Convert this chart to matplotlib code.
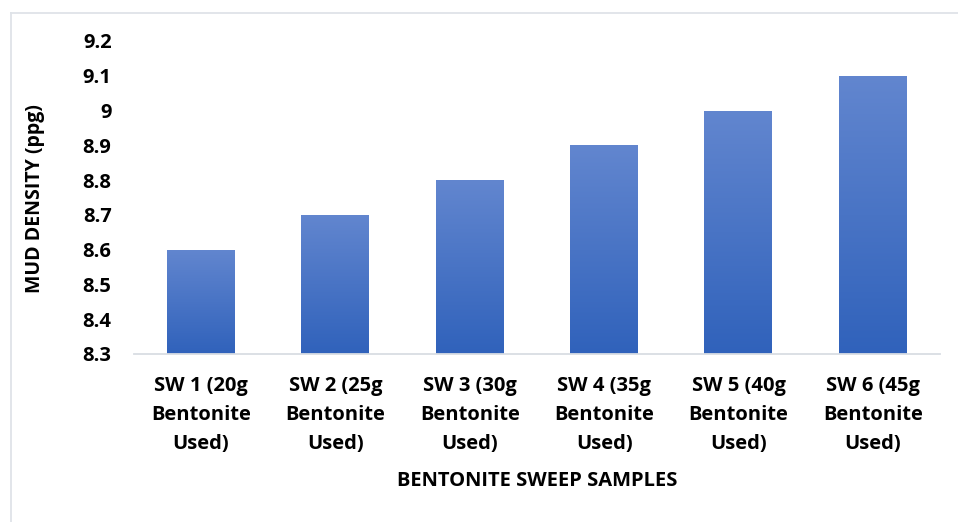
import matplotlib
matplotlib.use("Agg")
import matplotlib.pyplot as plt
import numpy as np
from matplotlib.colors import LinearSegmentedColormap
from matplotlib.lines import Line2D

categories = [
    "SW 1 (20g\nBentonite\nUsed)",
    "SW 2 (25g\nBentonite\nUsed)",
    "SW 3 (30g\nBentonite\nUsed)",
    "SW 4 (35g\nBentonite\nUsed)",
    "SW 5 (40g\nBentonite\nUsed)",
    "SW 6 (45g\nBentonite\nUsed)",
]
mud_density = [8.6, 8.7, 8.8, 8.9, 9.0, 9.1]
y_ticks = [8.3, 8.4, 8.5, 8.6, 8.7, 8.8, 8.9, 9.0, 9.1, 9.2]
y_tick_labels = ["8.3", "8.4", "8.5", "8.6", "8.7", "8.8", "8.9", "9", "9.1", "9.2"]

plt.rcParams["font.family"] = ["Open Sans", "DejaVu Sans"]
plt.rcParams["font.weight"] = "bold"

fig = plt.figure(figsize=(9.58, 5.22), dpi=100)
ax = fig.add_axes([133.8 / 958, 1 - 354 / 522, (940 - 133.8) / 958, (354 - 41) / 522])

ymin, ymax = 8.3, 9.2
x = np.arange(len(categories))
bars = ax.bar(x, np.array(mud_density) - ymin, bottom=ymin, width=0.506,
              color="none", edgecolor="none", zorder=2)

# vertical blue gradient fill inside each bar
grad_cmap = LinearSegmentedColormap.from_list("blue_grad", ["#3062bb", "#6286cf"])
grad = np.linspace(0, 1, 256).reshape(-1, 1)
for b in bars:
    x0, y0 = b.get_x(), b.get_y()
    w, h = b.get_width(), b.get_height()
    im = ax.imshow(grad, cmap=grad_cmap, origin="lower", aspect="auto",
                   extent=(x0, x0 + w, y0, y0 + h), zorder=2)
    im.set_clip_path(b)

ax.set_xlim(-0.5, len(categories) - 0.5)
ax.set_ylim(ymin, ymax)
ax.set_yticks(y_ticks)
ax.set_yticklabels(y_tick_labels)
ax.set_xticks(x)
ax.set_xticklabels(categories, linespacing=1.6)

for s in ["top", "right", "left"]:
    ax.spines[s].set_visible(False)
ax.spines["bottom"].set_color("#d9dde3")
ax.spines["bottom"].set_linewidth(1.3)
ax.tick_params(axis="both", length=0, labelsize=14.5, colors="black")
ax.tick_params(axis="y", pad=16)
ax.tick_params(axis="x", pad=16)
for lab in ax.get_xticklabels() + ax.get_yticklabels():
    lab.set_fontweight("bold")

fig.text(35 / 958, 1 - 199 / 522, "MUD DENSITY (ppg)", rotation=90,
         ha="center", va="center", fontsize=14, fontweight="bold")
fig.text(537 / 958, 1 - 481 / 522, "BENTONITE SWEEP SAMPLES",
         ha="center", va="center", fontsize=14.5, fontweight="bold")

# chart-area frame (left and top edges)
fig.add_artist(Line2D([10.5 / 958, 10.5 / 958], [0, 1 - 13 / 522],
                      transform=fig.transFigure, color="#dfe3e8", lw=1.3))
fig.add_artist(Line2D([10.5 / 958, 1], [1 - 13 / 522, 1 - 13 / 522],
                      transform=fig.transFigure, color="#dfe3e8", lw=1.3))

fig.savefig("out.png", dpi=100, facecolor="white")
